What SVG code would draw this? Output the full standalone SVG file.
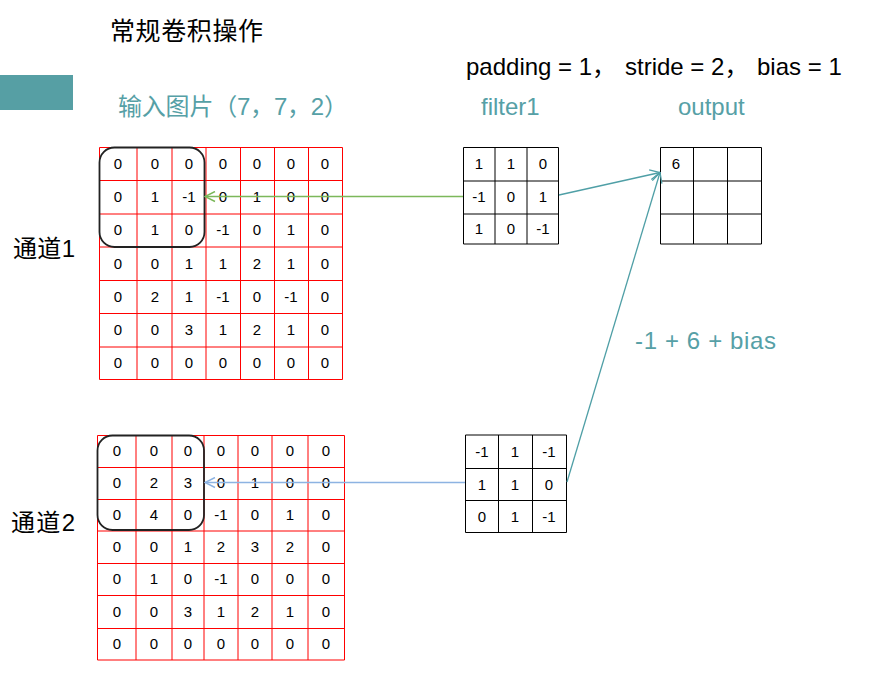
<svg xmlns="http://www.w3.org/2000/svg" width="877" height="684" viewBox="0 0 877 684">
<style>
.cjk{font-family:"Liberation Sans","Noto Sans CJK SC",sans-serif;}
.title{font-size:25px;fill:#000;}
.teal{fill:#56a0a6;font-size:24px;}
.blk{fill:#000;font-size:24px;}
.num{font-family:"Liberation Sans","DejaVu Sans",sans-serif;font-size:15px;fill:#000;text-anchor:middle;}
.red{fill:none;stroke:#ff0000;stroke-width:1;}
.bk{fill:none;stroke:#000;stroke-width:1;}
.win{fill:none;stroke:#222;stroke-width:1.8;}
</style>
<defs>
<marker id="aG" viewBox="0 0 12 12" refX="11" refY="6" markerWidth="12" markerHeight="12" markerUnits="userSpaceOnUse" orient="auto"><path d="M1,1 L11,6 L1,11" fill="none" stroke="#7cb85a" stroke-width="1.5"/></marker>
<marker id="aB" viewBox="0 0 12 12" refX="11" refY="6" markerWidth="12" markerHeight="12" markerUnits="userSpaceOnUse" orient="auto"><path d="M1,1 L11,6 L1,11" fill="none" stroke="#8db3e2" stroke-width="1.5"/></marker>
<marker id="aT" viewBox="0 0 12 12" refX="11" refY="6" markerWidth="12" markerHeight="12" markerUnits="userSpaceOnUse" orient="auto"><path d="M1,1 L11,6 L1,11" fill="none" stroke="#4f9fa6" stroke-width="1.3"/></marker>
</defs>
<rect width="877" height="684" fill="#fff"/>
<rect x="0" y="75" width="73" height="35" fill="#569fa4"/>
<g id="labels">
<text class="cjk title" x="110" y="40" textLength="153">常规卷积操作</text>
<text class="cjk blk" x="466" y="75">padding = 1，</text>
<text class="cjk blk" x="625" y="75">stride = 2，</text>
<text class="cjk blk" x="757" y="75">bias = 1</text>
<text class="cjk teal" x="118" y="115" textLength="230" lengthAdjust="spacing">输入图片（7，7，2）</text>
<text class="cjk teal" x="481" y="115">filter1</text>
<text class="cjk teal" x="678" y="115">output</text>
<text class="cjk blk" x="13" y="257" textLength="62">通道1</text>
<text class="cjk blk" x="11" y="531" textLength="64">通道2</text>
<text class="cjk teal" x="635" y="349" textLength="141" lengthAdjust="spacing">-1 + 6 + bias</text>
</g>
<g id="input-channel1">
<path class="red" d="M99.5,147.5H342.5M99.5,180.5H342.5M99.5,214H342.5M99.5,247H342.5M99.5,280.5H342.5M99.5,313.5H342.5M99.5,347H342.5M99.5,379.5H342.5M99.5,147.5V379.5M137,147.5V379.5M172,147.5V379.5M206,147.5V379.5M240.5,147.5V379.5M274.5,147.5V379.5M308.5,147.5V379.5M342.5,147.5V379.5"/>
<g class="num">
<text x="118" y="169">0</text><text x="155" y="169">0</text><text x="189" y="169">0</text><text x="223" y="169">0</text><text x="257" y="169">0</text><text x="291" y="169">0</text><text x="325" y="169">0</text>
<text x="118" y="202">0</text><text x="155" y="202">1</text><text x="189" y="202">-1</text><text x="223" y="202">0</text><text x="257" y="202">1</text><text x="291" y="202">0</text><text x="325" y="202">0</text>
<text x="118" y="235">0</text><text x="155" y="235">1</text><text x="189" y="235">0</text><text x="223" y="235">-1</text><text x="257" y="235">0</text><text x="291" y="235">1</text><text x="325" y="235">0</text>
<text x="118" y="269">0</text><text x="155" y="269">0</text><text x="189" y="269">1</text><text x="223" y="269">1</text><text x="257" y="269">2</text><text x="291" y="269">1</text><text x="325" y="269">0</text>
<text x="118" y="302">0</text><text x="155" y="302">2</text><text x="189" y="302">1</text><text x="223" y="302">-1</text><text x="257" y="302">0</text><text x="291" y="302">-1</text><text x="325" y="302">0</text>
<text x="118" y="335">0</text><text x="155" y="335">0</text><text x="189" y="335">3</text><text x="223" y="335">1</text><text x="257" y="335">2</text><text x="291" y="335">1</text><text x="325" y="335">0</text>
<text x="118" y="368">0</text><text x="155" y="368">0</text><text x="189" y="368">0</text><text x="223" y="368">0</text><text x="257" y="368">0</text><text x="291" y="368">0</text><text x="325" y="368">0</text>
</g>
<rect class="win" x="99.5" y="147.5" width="105" height="99.5" rx="15"/>
</g>
<g id="input-channel2">
<path class="red" d="M97.5,435.5H344.5M97.5,467.5H344.5M97.5,499.5H344.5M97.5,531H344.5M97.5,563.5H344.5M97.5,595.5H344.5M97.5,628.5H344.5M97.5,660H344.5M97.5,435.5V660M136,435.5V660M172,435.5V660M204,435.5V660M238,435.5V660M272,435.5V660M308,435.5V660M344.5,435.5V660"/>
<g class="num">
<text x="117" y="456">0</text><text x="154" y="456">0</text><text x="188" y="456">0</text><text x="221" y="456">0</text><text x="255" y="456">0</text><text x="290" y="456">0</text><text x="326" y="456">0</text>
<text x="117" y="488">0</text><text x="154" y="488">2</text><text x="188" y="488">3</text><text x="221" y="488">0</text><text x="255" y="488">1</text><text x="290" y="488">0</text><text x="326" y="488">0</text>
<text x="117" y="520">0</text><text x="154" y="520">4</text><text x="188" y="520">0</text><text x="221" y="520">-1</text><text x="255" y="520">0</text><text x="290" y="520">1</text><text x="326" y="520">0</text>
<text x="117" y="552">0</text><text x="154" y="552">0</text><text x="188" y="552">1</text><text x="221" y="552">2</text><text x="255" y="552">3</text><text x="290" y="552">2</text><text x="326" y="552">0</text>
<text x="117" y="584">0</text><text x="154" y="584">1</text><text x="188" y="584">0</text><text x="221" y="584">-1</text><text x="255" y="584">0</text><text x="290" y="584">0</text><text x="326" y="584">0</text>
<text x="117" y="617">0</text><text x="154" y="617">0</text><text x="188" y="617">3</text><text x="221" y="617">1</text><text x="255" y="617">2</text><text x="290" y="617">1</text><text x="326" y="617">0</text>
<text x="117" y="649">0</text><text x="154" y="649">0</text><text x="188" y="649">0</text><text x="221" y="649">0</text><text x="255" y="649">0</text><text x="290" y="649">0</text><text x="326" y="649">0</text>
</g>
<rect class="win" x="97.5" y="435.5" width="106.5" height="94.5" rx="15"/>
</g>
<g id="filter1">
<path class="bk" d="M463.5,147.5H558.5M463.5,181H558.5M463.5,214H558.5M463.5,244H558.5M463.5,147.5V244M495,147.5V244M527,147.5V244M558.5,147.5V244"/>
<g class="num">
<text x="479" y="169">1</text><text x="511" y="169">1</text><text x="543" y="169">0</text>
<text x="479" y="202">-1</text><text x="511" y="202">0</text><text x="543" y="202">1</text>
<text x="479" y="234">1</text><text x="511" y="234">0</text><text x="543" y="234">-1</text>
</g>
</g>
<g id="filter2">
<path class="bk" d="M465.5,435H566.5M465.5,468.5H566.5M465.5,500.5H566.5M465.5,532.5H566.5M465.5,435V532.5M498.5,435V532.5M532.5,435V532.5M566.5,435V532.5"/>
<g class="num">
<text x="482" y="457">-1</text><text x="515" y="457">1</text><text x="549" y="457">-1</text>
<text x="482" y="490">1</text><text x="515" y="490">1</text><text x="549" y="490">0</text>
<text x="482" y="522">0</text><text x="515" y="522">1</text><text x="549" y="522">-1</text>
</g>
</g>
<g id="output">
<path class="bk" d="M660.5,147.5H761.5M660.5,181H761.5M660.5,214H761.5M660.5,244H761.5M660.5,147.5V244M693.5,147.5V244M727.5,147.5V244M761.5,147.5V244"/>
<g class="num"><text x="676" y="169">6</text></g>
</g>
<g id="connectors">
<path d="M463,196.5H205" fill="none" stroke="#7cb85a" stroke-width="1.5" marker-end="url(#aG)"/>
<path d="M465,482.5H205" fill="none" stroke="#8db3e2" stroke-width="1.5" marker-end="url(#aB)"/>
<path d="M559,195L660,172.5" fill="none" stroke="#4f9fa6" stroke-width="1.3" marker-end="url(#aT)"/>
<path d="M567,482L660,172.5" fill="none" stroke="#4f9fa6" stroke-width="1.3" marker-end="url(#aT)"/>
</g>
</svg>
